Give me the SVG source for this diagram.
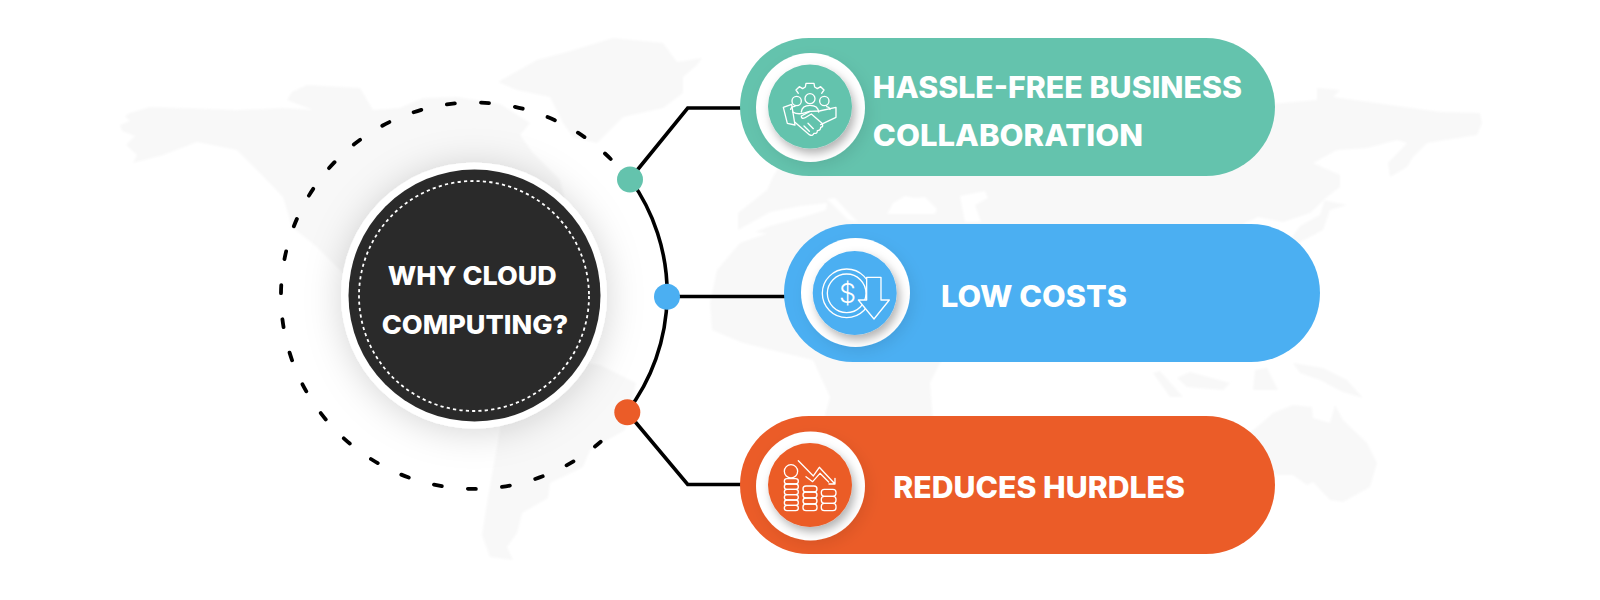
<svg xmlns="http://www.w3.org/2000/svg" width="1600" height="600" viewBox="0 0 1600 600">
<style>
.land{fill:#f8f8f8}
.hole{fill:#fff}
.conn{fill:none;stroke:#000;stroke-width:3.6;stroke-linejoin:miter}
.label{font-family:Inter,"Liberation Sans",sans-serif;font-weight:800;fill:#fff}
.pl{font-size:29.5px}
.ml{font-size:26px}
.ring{fill:#fff}
.ic{fill:none;stroke:#fff;stroke-width:4;stroke-linejoin:round;stroke-linecap:round}
</style>
<defs>
<filter id="soft" x="-40%" y="-40%" width="180%" height="180%"><feDropShadow dx="0" dy="3" stdDeviation="18" flood-color="#000" flood-opacity=".17"/></filter>
<filter id="iconS" x="-30%" y="-30%" width="170%" height="170%"><feDropShadow dx="3" dy="5" stdDeviation="5" flood-color="#000" flood-opacity=".3"/></filter>
<filter id="ringS" x="-30%" y="-30%" width="170%" height="170%"><feDropShadow dx="4" dy="5" stdDeviation="7" flood-color="#000" flood-opacity=".08"/></filter>
<filter id="mapBlur" x="-5%" y="-5%" width="110%" height="110%"><feGaussianBlur stdDeviation="1"/></filter>
</defs>
<rect width="1600" height="600" fill="#fff"/>

<g id="world-map" filter="url(#mapBlur)">
<path class="land" d="M120 125L130 121L125 116L130 113L150 107L237 110L283 108L313 110L287 100L292 92L307 85L360 88L373 110L400 108L423 98L457 97L500 104L530 123L520 135L533 153L560 180L575 240L600 300L560 380L480 400L400 360L343 273L317 247L292 227L283 197L257 170L237 150L197 142L163 155L133 163L137 155L126 145L135 136L122 131Z"/>
<path class="land" d="M498 82L537 60L567 52L613 38L663 43L677 62L702 58L697 65L683 77L683 93L663 108L623 117L597 143L573 137L563 123L550 97L517 90Z"/>
<path class="land" d="M520 380L560 360L600 365L636 383L625 430L590 450L583 467L550 483L548 498L522 513L517 533L507 547L513 560L490 557L482 535L488 497L500 430Z"/>
<path class="land" d="M773 177L800 130L1283 103L1317 100L1317 88L1340 90L1333 97L1440 112L1480 113L1482 123L1477 135L1427 143L1413 157L1407 167L1390 177L1388 163L1407 143L1397 140L1367 148L1337 150L1313 163L1340 175L1340 187L1323 200L1347 205L1330 210L1323 230L1300 242L1280 300L1000 300L900 250L738 230L738 213L767 190Z"/>
<path class="land" d="M710 303L717 270L740 243L783 228L813 225L880 225L960 260L970 330L940 363L930 383L933 420L900 500L840 500L825 415L830 397L813 360L743 343L712 330Z"/>
<path class="hole" d="M887 214L893 203L905 196L915 198L925 197L937 209L935 214Z"/>
<path class="hole" d="M960 196L985 191L988 198L975 205L981 222L965 222Z"/>
<path class="hole" d="M827 199L835 198L848 212L858 222L848 220Z"/>
<path class="hole" d="M738 230L770 212L800 206L827 203L826 210L800 218L770 226L745 236Z"/>
<path class="hole" d="M1243 224L1258 217L1283 222L1310 213L1325 199L1320 215L1300 226L1290 240L1270 240L1250 238Z"/>
<path class="land" d="M1153 373L1160 371L1183 397L1170 397Z"/>
<path class="land" d="M1177 378L1190 372L1230 383L1223 390L1187 387Z"/>
<path class="land" d="M1255 370L1267 368L1278 390L1253 390Z"/>
<path class="land" d="M1293 363L1323 368L1347 380L1363 398L1343 392L1320 380L1300 373Z"/>
<path class="land" d="M1257 427L1273 413L1293 405L1312 407L1313 418L1330 423L1335 405L1343 420L1367 443L1377 463L1370 487L1343 502L1330 500L1313 482L1307 485L1293 475L1277 475L1240 470L1240 440Z"/>
</g>

<g id="dashed-ring"><path d="M610.7 159A193.2 193.2 0 1 0 600.7 441.7" fill="none" stroke="#000" stroke-width="3.8" stroke-linecap="round" stroke-dasharray="8 26.18"/></g>

<g id="connectors">
<path class="conn" d="M630 179A195 195 0 0 1 627 412"/>
<path class="conn" d="M630 179L687.7 108H745"/>
<path class="conn" d="M667 296.5H790"/>
<path class="conn" d="M627 412L687.7 484.5H745"/>
</g>

<g id="dots">
<circle cx="630" cy="179.5" r="13" fill="#64c3ad"/>
<circle cx="667" cy="296.7" r="13" fill="#4baff2"/>
<circle cx="627.3" cy="412.3" r="13" fill="#eb5c28"/>
</g>

<g id="center-node">
<circle cx="474" cy="295.5" r="133" class="ring" filter="url(#soft)"/>
<circle cx="474.5" cy="295.5" r="126" fill="#2a2a2a"/>
<circle cx="474" cy="296" r="115" fill="none" stroke="#fff" stroke-width="1.8" stroke-dasharray="3.2 3.2"/>
<text class="label ml" x="387.7" y="285" textLength="169" lengthAdjust="spacingAndGlyphs">WHY CLOUD</text>
<text class="label ml" x="381.7" y="334" textLength="186.6" lengthAdjust="spacingAndGlyphs">COMPUTING?</text>
</g>

<g id="node-collaboration">
<rect x="740" y="38" width="535" height="138" rx="69" fill="#64c3ad"/>
<circle cx="810.5" cy="107.5" r="54.5" class="ring" filter="url(#ringS)"/>
<circle cx="810" cy="106.5" r="42" fill="#64c3ad" filter="url(#iconS)"/>
<g transform="translate(730 30) scale(.3333)" class="ic">
<path d="M205 190L198 180L208 170L218 176L226 171L228 160H252L254 171L262 176L272 170L282 180L275 190"/>
<circle cx="240" cy="206" r="15"/>
<path d="M214 246Q216 226 240 226Q264 226 266 246"/>
<circle cx="200" cy="213" r="14"/>
<circle cx="283" cy="213" r="14"/>
<path d="M182 238Q183 230 195 229M300 238Q299 232 290 230"/>
<path d="M160 232L185 223L195 285L172 280Z"/>
<path d="M188 246C205 256 222 250 240 244L268 243L318 232V262L272 284"/>
<path d="M194 276L238 314Q248 320 252 310Q262 312 262 302Q272 302 272 292Q282 290 276 280L244 252L224 264Q214 268 214 258L240 244"/>
<path d="M222 288L238 304M234 280L250 296"/>
</g>
<text class="label pl" x="872.8" y="97.6" textLength="369.2" lengthAdjust="spacingAndGlyphs">HASSLE-FREE BUSINESS</text>
<text class="label pl" x="872.8" y="145.8" textLength="270.2" lengthAdjust="spacingAndGlyphs">COLLABORATION</text>
</g>

<g id="node-low-costs">
<rect x="784" y="224" width="536" height="138" rx="69" fill="#4baff2"/>
<circle cx="855.5" cy="292.5" r="54.5" class="ring" filter="url(#ringS)"/>
<circle cx="854.7" cy="293" r="42" fill="#4baff2" filter="url(#iconS)"/>
<g transform="translate(775 220) scale(.3333)" class="ic">
<circle cx="215" cy="220" r="73"/>
<circle cx="215" cy="220" r="58"/>
<path d="M275 172H318V240H343L297 297L250 240H275Z" fill="#4baff2"/>
</g>
<text x="847.5" y="303" font-family="Inter,'Liberation Sans',sans-serif" font-weight="300" font-size="27" fill="#fff" text-anchor="middle">$</text>
<text class="label pl" x="941" y="307.3" textLength="186" lengthAdjust="spacingAndGlyphs">LOW COSTS</text>
</g>

<g id="node-reduces-hurdles">
<rect x="740" y="416" width="535" height="138" rx="69" fill="#eb5c28"/>
<circle cx="810.5" cy="486" r="54.5" class="ring" filter="url(#ringS)"/>
<circle cx="810" cy="485" r="42" fill="#eb5c28" filter="url(#iconS)"/>
<g transform="translate(730 410) scale(.3333)" class="ic">
<circle cx="183" cy="184" r="20"/>
<rect x="163" y="206" width="42" height="16" rx="8"/><rect x="163" y="222" width="42" height="16" rx="8"/><rect x="163" y="238" width="42" height="16" rx="8"/><rect x="163" y="254" width="42" height="16" rx="8"/><rect x="163" y="270" width="42" height="16" rx="8"/><rect x="163" y="286" width="42" height="16" rx="8"/>
<rect x="219" y="228" width="42" height="18" rx="9"/><rect x="219" y="246" width="42" height="18" rx="9"/><rect x="219" y="264" width="42" height="18" rx="9"/><rect x="219" y="282" width="42" height="20" rx="9"/>
<rect x="274" y="238" width="44" height="21" rx="9"/><rect x="274" y="259" width="44" height="21" rx="9"/><rect x="274" y="280" width="44" height="22" rx="9"/>
<path d="M205 152L250 198L268 172L315 222M297 222H315V205"/>
<path d="M228 200L248 215L270 190L296 216"/>
</g>
<text class="label pl" x="893.3" y="497.5" textLength="291.7" lengthAdjust="spacingAndGlyphs">REDUCES HURDLES</text>
</g>
</svg>
